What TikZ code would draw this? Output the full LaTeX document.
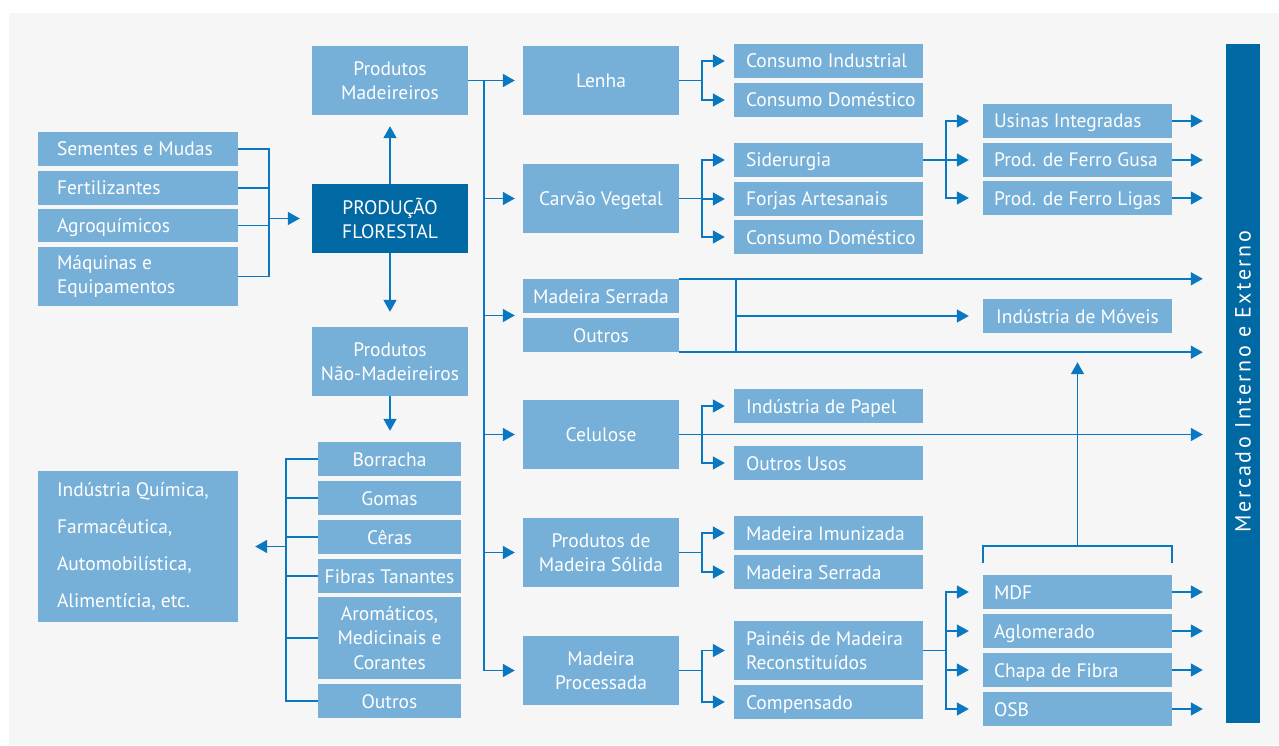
\documentclass[tikz,border=0pt]{standalone}
\usepackage{fontspec}
\setmainfont{PT Sans}
\newfontfamily\mercfont[LetterSpace=11]{PT Sans}
\usetikzlibrary{arrows.meta,calc}
\definecolor{bg}{HTML}{F6F6F6}
\definecolor{lbox}{HTML}{76AFD7}
\definecolor{dbox}{HTML}{0068A3}
\definecolor{lnc}{HTML}{0A78C0}
\newcommand\fs{\fontsize{19.5}{24.5}\selectfont}
% \mkbox[opts]{name}{text}{x1}{x2}{y1}{y2}  -- centred text
\newcommand\mkbox[7][]{\node[box,minimum width={#5-#4},minimum height={#7-#6},#1] (#2) at ({(#4+#5)/2},{(#6+#7)/2}) {#3};}
% \mklbox[opts]{name}{text}{x1}{x2}{y1}{y2}{pad}  -- left-aligned text
\newcommand\mklbox[8][]{\node[box,minimum width={#5-#4},minimum height={#7-#6}] (#2) at ({(#4+#5)/2},{(#6+#7)/2}) {};
  \node[txt,anchor=west,#1] (#2-t) at ($(#2.west)+(#8,0)$) {#3};}
\begin{document}
\begin{tikzpicture}[x=1pt,y=-1pt,
  box/.style={fill=lbox,text=white,inner sep=0pt,align=center,font=\fs,text height=14pt,text depth=0pt},
  txt/.style={text=white,inner sep=0pt,align=left,font=\fs,text height=14pt,text depth=0pt},
  ml/.style={text height={},text depth={}},
  dark/.style={fill=dbox},
  ln/.style={draw=lnc,line width=1.6pt},
  arr/.style={ln,-{Triangle[length=12pt,width=13pt]}},
]
\useasboundingbox (0,0) rectangle (1279,746);
\fill[bg] (9,13) rectangle (1279,745);

% left inputs
\mklbox{sem}{Sementes e Mudas}{38}{238}{132}{166}{19}
\mklbox{fer}{Fertilizantes}{38}{238}{171}{205}{19}
\mklbox{agr}{Agroquímicos}{38}{238}{209}{242}{19}
\mklbox[ml]{maq}{Máquinas e\\Equipamentos}{38}{238}{247}{306}{19}
\mkbox[dark,ml]{pf}{PRODUÇÃO\\FLORESTAL}{312}{468}{184}{253}
\mkbox[ml]{pm}{Produtos\\Madeireiros}{312}{468}{46}{115}
\mkbox[ml]{pnm}{Produtos\\Não-Madeireiros}{312}{468}{327}{396}
\mkbox{bor}{Borracha}{318}{461}{442}{476}
\mkbox{gom}{Gomas}{318}{461}{481}{515}
\mkbox{cer}{Cêras}{318}{461}{520}{554}
\mkbox{fib}{Fibras Tanantes}{318}{461}{559}{593}
\mkbox[ml]{aro}{Aromáticos,\\Medicinais e\\Corantes}{318}{461}{597}{679}
\mkbox{outa}{Outros}{318}{461}{684}{718}
\mklbox[ml,font=\fontsize{19.5}{37}\selectfont]{ind}{Indústria Química,\\Farmacêutica,\\Automobilística,\\Alimentícia, etc.}{38}{238}{471}{622}{19}

% second column
\mkbox{lenha}{Lenha}{523}{679}{46}{115}
\mkbox{carv}{Carvão Vegetal}{523}{679}{164}{233}
\mkbox{mser}{Madeira Serrada}{523}{679}{279}{313}
\mkbox{outb}{Outros}{523}{679}{318}{352}
\mkbox{cel}{Celulose}{523}{679}{400}{469}
\mkbox[ml]{pms}{Produtos de\\Madeira Sólida}{523}{679}{518}{587}
\mkbox[ml]{mpr}{Madeira\\Processada}{523}{679}{636}{705}

% third column
\mklbox{ci}{Consumo Industrial}{734}{923}{44}{78}{12}
\mklbox{cda}{Consumo Doméstico}{734}{923}{83}{117}{12}
\mklbox{sid}{Siderurgia}{734}{923}{143}{177}{12}
\mklbox{forj}{Forjas Artesanais}{734}{923}{182}{216}{12}
\mklbox{cdb}{Consumo Doméstico}{734}{923}{220}{254}{12}
\mklbox{pap}{Indústria de Papel}{734}{923}{389}{423}{12}
\mklbox{ousos}{Outros Usos}{734}{923}{446}{480}{12}
\mklbox{mim}{Madeira Imunizada}{734}{923}{516}{550}{12}
\mklbox{msb}{Madeira Serrada}{734}{923}{555}{589}{12}
\mklbox[ml]{pai}{Painéis de Madeira\\Reconstituídos}{734}{923}{621}{680}{12}
\mklbox{comp}{Compensado}{734}{923}{685}{719}{12}

% fourth column
\mklbox{usi}{Usinas Integradas}{983}{1172}{104}{138}{11}
\mklbox{gusa}{Prod. de Ferro Gusa}{983}{1172}{143}{177}{11}
\mklbox{ligas}{Prod. de Ferro Ligas}{983}{1172}{181}{215}{11}
\mkbox{mov}{Indústria de Móveis}{983}{1172}{299}{333}
\mklbox{mdf}{MDF}{983}{1172}{575}{609}{11}
\mklbox{agl}{Aglomerado}{983}{1172}{614}{648}{11}
\mklbox{cha}{Chapa de Fibra}{983}{1172}{653}{687}{11}
\mklbox{osb}{OSB}{983}{1172}{692}{726}{11}

% market bar
\node[fill=dbox,inner sep=0pt,minimum width=34,minimum height=679] (merc) at (1243,383.5) {};
\node[rotate=90,text=white,inner sep=0pt,font=\mercfont\fontsize{22}{22}\selectfont] (mtxt) at (1243,381.5) {Mercado Interno e Externo};

% inputs -> producao
\coordinate (jin) at ($(pf.west)+(-43,0)$);
\foreach \n in {sem,fer,agr,maq} \draw[ln] (\n.east) -| (jin);
\draw[arr,shorten >=12pt] (jin) -- (pf.west);

% up / down
\draw[arr,shorten >=11pt] (pf.north) -- (pm.south);
\draw[arr,shorten >=15pt] (pf.south) -- (pnm.north);
\draw[arr,shorten >=11pt] (pnm.south) -- (pnm.south |- bor.north);

% non-wood bracket
\coordinate (jnw) at ($(ind.east)+(48,0)$);
\foreach \n in {bor,gom,cer,fib,aro,outa} \draw[ln] (\n.west) -| (jnw);
\draw[arr,shorten >=17pt] (jnw) -- (ind.east);

% trunk
\coordinate (tr) at ($(pm.east)+(16,0)$);
\draw[ln] (pm.east) -- (tr);
\foreach \n in {lenha,carv,cel,pms,mpr} \draw[arr,shorten >=8pt] (tr) |- (\n.west);
\coordinate (msmid) at ($(mser.south west)!0.5!(outb.north west)$);
\draw[arr,shorten >=8pt] (tr) |- (msmid);

% second -> third column
\foreach \s/\t in {lenha/ci,lenha/cda,carv/sid,carv/forj,carv/cdb,cel/pap,cel/ousos,pms/mim,pms/msb,mpr/pai,mpr/comp}
  \draw[arr,shorten >=9pt] (\s.east) -- ++(23,0) |- (\t.west);

% third -> fourth column
\foreach \t in {usi,gusa,ligas} \draw[arr,shorten >=14pt] (sid.east) -- ++(23,0) |- (\t.west);
\foreach \t in {mdf,agl,cha,osb} \draw[arr,shorten >=14pt] (pai.east) -- ++(23,0) |- (\t.west);

% to market
\foreach \n in {usi,gusa,ligas,mdf,agl,cha,osb} \draw[arr,shorten >=23pt] (\n.east) -- (\n.east -| merc.west);
\draw[arr,shorten >=23pt] (cel.east) -- (cel.east -| merc.west);
\draw[arr,shorten >=23pt] (mser.north east) -- (mser.north east -| merc.west);
\draw[arr,shorten >=23pt] (outb.south east) -- (outb.south east -| merc.west);
\coordinate (vms) at ($(mser.north east)+(57,0)$);
\draw[ln] (vms) -- (vms |- outb.south east);
\draw[arr,shorten >=14pt] (vms |- mov.west) -- (mov.west);

% bracket over panels
\draw[ln] ($(mdf.north west)+(0,-12)$) -- ($(mdf.north west)+(0,-29)$) -- ($(mdf.north east)+(0,-29)$) -- ($(mdf.north east)+(0,-12)$);
\draw[arr,shorten >=29pt] ($(mdf.north)+(0,-29)$) -- (mdf.north |- mov.south);
\end{tikzpicture}
\end{document}
